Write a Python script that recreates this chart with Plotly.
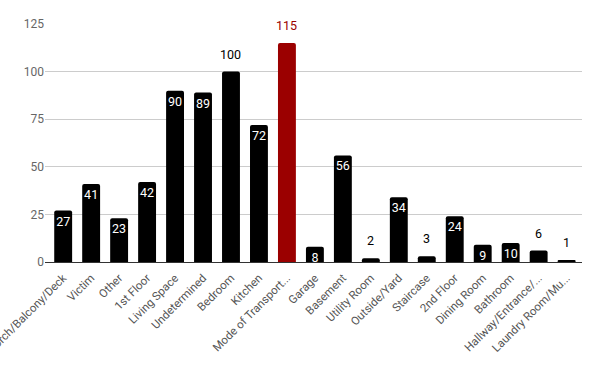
import plotly.graph_objects as go

categories = ["Porch/Balcony/Deck", "Victim", "Other", "1st Floor", "Living Space",
              "Undetermined", "Bedroom", "Kitchen", "Mode of Transport...", "Garage",
              "Basement", "Utility Room", "Outside/Yard", "Staircase", "2nd Floor",
              "Dining Room", "Bathroom", "Hallway/Entrance/...", "Laundry Room/Mu..."]
values = [27, 41, 23, 42, 90, 89, 100, 72, 115, 8, 56, 2, 34, 3, 24, 9, 10, 6, 1]
highlight = "Mode of Transport..."
outside_labels = ["Bedroom", "Mode of Transport...", "Utility Room", "Staircase",
                  "Hallway/Entrance/...", "Laundry Room/Mu..."]
y_ticks = [0, 25, 50, 75, 100, 125]

RED = "#9b0000"
bar_colors = [RED if c == highlight else "#000000" for c in categories]
inside_text = ["" if c in outside_labels else str(v) for c, v in zip(categories, values)]

fig = go.Figure(go.Bar(
    x=categories, y=values, text=inside_text,
    textposition="inside", insidetextanchor="end",
    textfont=dict(color="#ffffff", size=12.5, family="Roboto"),
    marker=dict(color=bar_colors, cornerradius=2, line=dict(width=0)),
    width=0.64, cliponaxis=False, textangle=0, hoverinfo="skip",
))

for c, v in zip(categories, values):
    if c in outside_labels:
        fig.add_annotation(x=c, y=v, text=str(v), showarrow=False, yanchor="bottom",
                           yshift=8, font=dict(size=12.5, family="Roboto",
                                               color=RED if c == highlight else "#000000"))

fig.update_layout(
    width=600, height=371,
    margin=dict(l=45, r=18, t=24, b=109),
    plot_bgcolor="white", paper_bgcolor="white",
    font=dict(family="Roboto", size=12, color="#555555"),
    showlegend=False, hovermode=False,
    uniformtext=dict(minsize=12, mode="show"),
)
fig.update_xaxes(range=[-0.65, 18.55], tickangle=-45, showgrid=False,
                 tickfont=dict(size=11.5, color="#555555"), automargin=False,
                 showline=False, ticks="", ticklabelstandoff=6)
fig.update_yaxes(range=[0, 125], tickvals=y_ticks, gridcolor="#cccccc",
                 zeroline=True, zerolinecolor="#333333", zerolinewidth=1,
                 tickfont=dict(size=12, color="#666666"), automargin=False,
                 ticks="", ticklen=0)

fig.write_html("out.html", config={"displayModeBar": False, "staticPlot": True},
               post_script="document.body.style.margin='0';")
